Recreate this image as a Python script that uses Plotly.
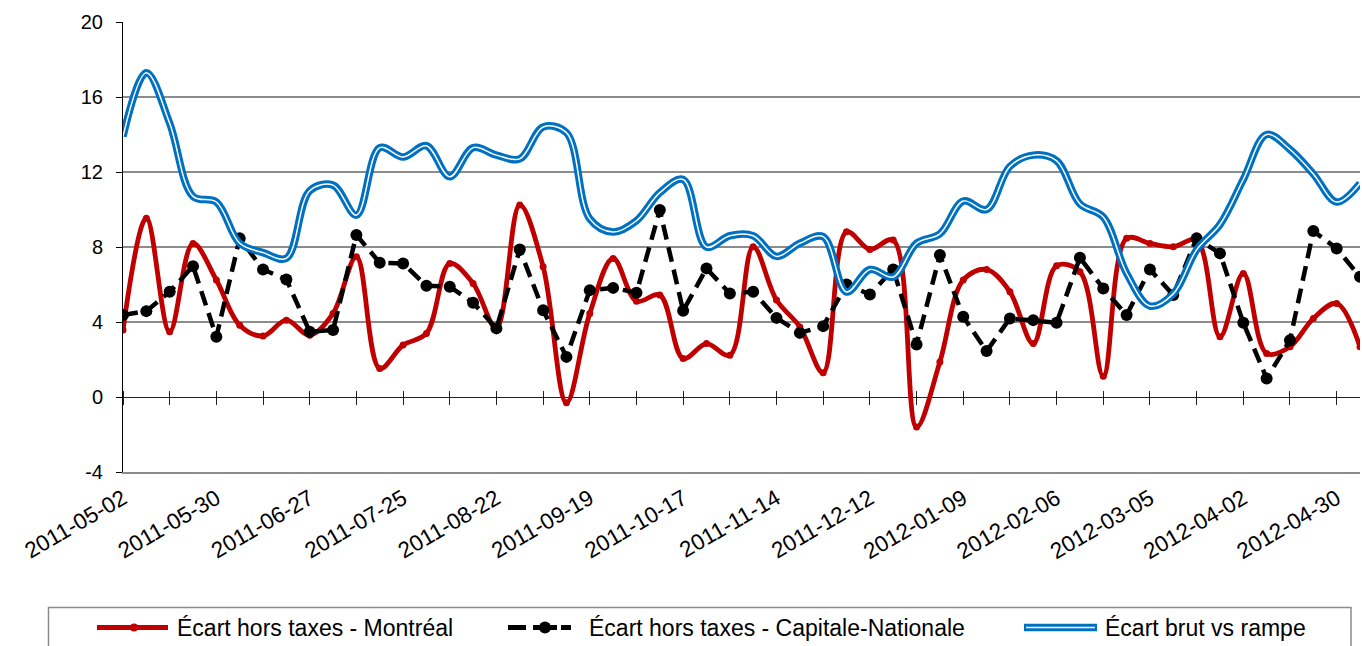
import pandas as pd
import plotly.graph_objects as go

# Weekly observation dates (Mondays)
weeks = pd.date_range("2011-05-02", periods=54, freq="7D")

# Écart hors taxes - Montréal (¢/L)
montreal = [3.57, 9.53, 3.48, 8.19, 6.24, 3.83, 3.26, 4.10, 3.30, 4.46,
            7.48, 1.52, 2.77, 3.39, 7.12, 6.06, 3.66, 10.24, 6.95, -0.31,
            4.46, 7.39, 5.11, 5.44, 2.05, 2.85, 2.23, 8.01, 5.17, 3.74,
            1.30, 8.81, 7.87, 8.37, -1.60, 1.87, 6.24, 6.80, 5.61, 2.85,
            7.00, 6.68, 1.11, 8.46, 8.19, 8.01, 8.37, 3.21, 6.59, 2.32,
            2.68, 4.19, 4.99, 2.68]

# Écart hors taxes - Capitale-Nationale (¢/L)
capitale = [4.37, 4.58, 5.61, 6.98, 3.21, 8.46, 6.80, 6.27, 3.48, 3.57,
            8.64, 7.16, 7.12, 5.93, 5.88, 5.03, 3.66, 7.87, 4.63, 2.14,
            5.70, 5.82, 5.56, 9.97, 4.60, 6.86, 5.52, 5.61, 4.22, 3.42,
            3.78, 6.00, 5.47, 6.80, 2.80, 7.57, 4.28, 2.45, 4.19, 4.10,
            3.96, 7.43, 5.79, 4.37, 6.80, 5.44, 8.46, 7.66, 3.96, 0.99,
            3.03, 8.85, 7.92, 6.41]

# Écart brut vs rampe (¢/L)
brut = [13.9, 17.3, 14.6, 10.7, 10.4, 8.2, 7.7, 7.4, 11.0, 11.3,
        9.7, 13.3, 12.8, 13.4, 11.75, 13.3, 12.9, 12.7, 14.4, 14.1,
        9.5, 8.8, 9.4, 10.9, 11.6, 8.0, 8.6, 8.6, 7.5, 8.2,
        8.55, 5.6, 6.8, 6.4, 8.2, 8.7, 10.45, 10.0, 12.3, 12.9,
        12.6, 10.3, 9.6, 6.6, 4.85, 5.5, 7.85, 9.2, 11.6, 14.0,
        13.2, 11.9, 10.4, 11.4]

series_names = ["Écart hors taxes - Montréal",
                "Écart hors taxes - Capitale-Nationale",
                "Écart brut vs rampe"]

y_ticks = [-4, 0, 4, 8, 12, 16, 20]
y_tick_text = ["-4", "0", "4", "8", "12", "16", "20"]

RED = "#C00000"
BLUE = "#0070C0"
GRID = "#8C8C8C"
FONT = "Liberation Sans, Arial, sans-serif"

W, H = 1362, 646
L, R, T, B = 123, 2, 22, 174
PW, PH = W - L - R, H - T - B


def px(x):
    return (x - L) / PW


def py(y):
    return (H - B - y) / PH


fig = go.Figure()

fig.add_trace(go.Scatter(
    x=weeks, y=montreal, mode="lines+markers", name=series_names[0],
    line=dict(color=RED, width=4.8, shape="spline", smoothing=1.0),
    marker=dict(color=RED, size=7), showlegend=False))

fig.add_trace(go.Scatter(
    x=weeks, y=capitale, mode="lines+markers", name=series_names[1],
    line=dict(color="black", width=4.5, dash="15px,8px"),
    marker=dict(color="black", size=12), showlegend=False))

fig.add_trace(go.Scatter(
    x=weeks, y=brut, mode="lines", name=series_names[2],
    line=dict(color=BLUE, width=7.5, shape="spline", smoothing=1.0),
    showlegend=False))
fig.add_trace(go.Scatter(
    x=weeks, y=brut, mode="lines", name=series_names[2],
    line=dict(color="white", width=1.5, shape="spline", smoothing=1.0),
    showlegend=False, hoverinfo="skip"))

x_range = [weeks[0], weeks[-1]]
four_weeks = 28 * 86400000
two_weeks = 14 * 86400000

fig.update_layout(
    width=W, height=H,
    margin=dict(l=L, r=R, t=T, b=B),
    paper_bgcolor="white", plot_bgcolor="white",
    font=dict(family=FONT, size=19, color="black"),
    xaxis=dict(
        type="date", range=x_range, tick0="2011-05-02", dtick=four_weeks,
        tickformat="%Y-%m-%d", tickangle=-30, showgrid=False,
        ticks="", showline=True, linecolor=GRID, linewidth=1.5,
        tickfont=dict(size=22.5), ticklabelstandoff=3, zeroline=False),
    xaxis2=dict(
        type="date", range=x_range, overlaying="x", anchor="free",
        position=4 / 24 + 7 / PH, tick0="2011-05-02", dtick=two_weeks,
        ticks="outside", ticklen=14, tickwidth=1, tickcolor="#222222",
        showticklabels=False, showgrid=False, showline=False, zeroline=False),
    yaxis=dict(
        range=[-4, 20], tickvals=y_ticks, ticktext=y_tick_text,
        showgrid=True, gridcolor=GRID,
        gridwidth=1.5, showline=True, linecolor="black", linewidth=1,
        ticks="outside", ticklen=6, tickcolor="black", ticklabelstandoff=9,
        zeroline=True, zerolinecolor="#222222", zerolinewidth=1,
        tickfont=dict(size=20)),
)

# empty trace so the tick-mark axis at y = 0 is rendered
fig.add_trace(go.Scatter(x=[weeks[0]], y=[None], xaxis="x2", showlegend=False,
                         hoverinfo="skip"))

# Legend box drawn below the plot
shapes = [
    dict(type="rect", xref="paper", yref="paper",
         x0=px(48.5), x1=px(1351), y0=py(607.5), y1=py(700),
         line=dict(color=GRID, width=1.5), fillcolor="rgba(0,0,0,0)"),
    dict(type="line", xref="paper", yref="paper",
         x0=px(97), x1=px(168), y0=py(627.5), y1=py(627.5),
         line=dict(color=RED, width=5)),
    dict(type="circle", xref="paper", yref="paper",
         x0=px(130), x1=px(138), y0=py(631.5), y1=py(623.5),
         fillcolor=RED, line=dict(width=0)),
]
for a, b in [(508, 526), (533, 557), (561, 571)]:
    shapes.append(dict(type="line", xref="paper", yref="paper",
                       x0=px(a), x1=px(b), y0=py(627.5), y1=py(627.5),
                       line=dict(color="black", width=5)))
shapes.append(dict(type="circle", xref="paper", yref="paper",
                   x0=px(539), x1=px(551), y0=py(633.5), y1=py(621.5),
                   fillcolor="black", line=dict(width=0)))
shapes.append(dict(type="line", xref="paper", yref="paper",
                   x0=px(1024), x1=px(1097), y0=py(627.5), y1=py(627.5),
                   line=dict(color=BLUE, width=7.5)))
shapes.append(dict(type="line", xref="paper", yref="paper",
                   x0=px(1026), x1=px(1095), y0=py(627.5), y1=py(627.5),
                   line=dict(color="white", width=1.5)))
fig.update_layout(shapes=shapes)

for name, x_left in zip(series_names, [175, 587, 1103]):
    fig.add_annotation(text=name, xref="paper", yref="paper",
                       x=px(x_left), y=py(628), xanchor="left", yanchor="middle",
                       showarrow=False, font=dict(size=23, family=FONT, color="black"))

fig.write_html("out.html")
